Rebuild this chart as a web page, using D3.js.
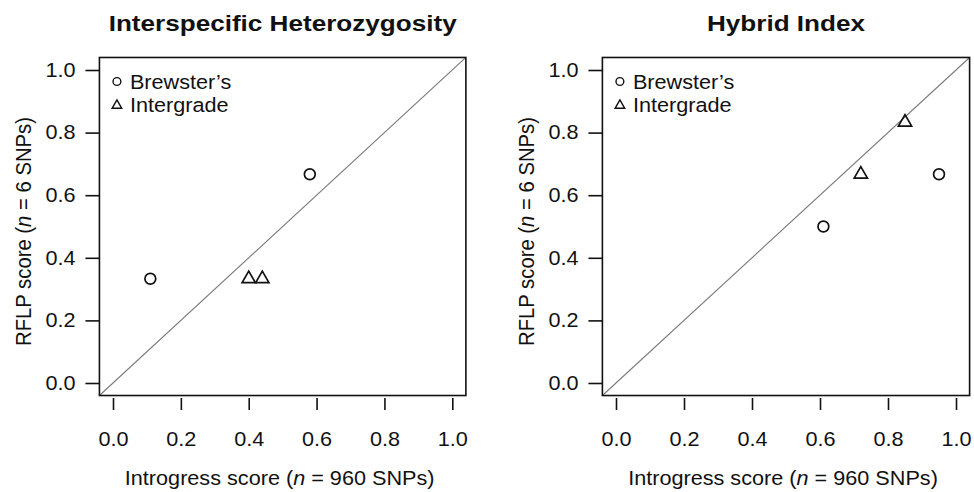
<!DOCTYPE html>
<html>
<head>
<meta charset="utf-8">
<script src="https://cdn.jsdelivr.net/npm/d3@7/dist/d3.min.js"></script>
<style>
  html, body { margin: 0; padding: 0; background: #fff; }
  svg { display: block; font-family: "Liberation Sans", Arial, Helvetica, sans-serif; }
</style>
</head>
<body>
<svg id="chart" width="974" height="492"></svg>
<script>
// ---- Data ----
const panelTitles = ["Interspecific Heterozygosity", "Hybrid Index"];
const tickValues = [0, 0.2, 0.4, 0.6, 0.8, 1.0];
const legendLabels = ["Brewster\u2019s", "Intergrade"];

// Panel 1: Interspecific Heterozygosity
const hetBrewsterX = [0.11, 0.58];
const hetBrewsterY = [0.333, 0.667];
const hetIntergradeX = [0.40, 0.44];
const hetIntergradeY = [0.333, 0.333];

// Panel 2: Hybrid Index
const hiBrewsterX = [0.61, 0.95];
const hiBrewsterY = [0.5, 0.667];
const hiIntergradeX = [0.72, 0.85];
const hiIntergradeY = [0.667, 0.833];

const panels = [
  { title: panelTitles[0], bx: hetBrewsterX, by: hetBrewsterY, ix: hetIntergradeX, iy: hetIntergradeY, x0: 113, x1: 452.3 },
  { title: panelTitles[1], bx: hiBrewsterX, by: hiBrewsterY, ix: hiIntergradeX, iy: hiIntergradeY, x0: 616, x1: 956 }
];

const svg = d3.select("#chart");
const FS = 19.5;
const SX = 1.11;   // horizontal stretch of the original figure's text

function stretchedText(parent, x, y, sx, anchor) {
  return parent.append("g").attr("transform", `translate(${x},${y}) scale(${sx},1)`)
    .append("text").attr("text-anchor", anchor).attr("fill", "#111");
}

panels.forEach((p, pi) => {
  const x = d3.scaleLinear().domain([0, 1]).range([p.x0, p.x1]);
  const y = d3.scaleLinear().domain([0, 1]).range([383, 70]);
  const g = svg.append("g");
  const left = x(-0.04), right = x(1.04), top = y(1.04), bottom = y(-0.04);

  const cid = "clip" + pi;
  svg.append("clipPath").attr("id", cid).append("rect")
    .attr("x", left).attr("y", top).attr("width", right - left).attr("height", bottom - top);

  // diagonal 1:1 line
  g.append("line")
    .attr("clip-path", `url(#${cid})`)
    .attr("x1", x(-0.04)).attr("y1", y(-0.04))
    .attr("x2", x(1.04)).attr("y2", y(1.04))
    .attr("stroke", "#7a7a7a").attr("stroke-width", 1.1);

  // box
  g.append("rect")
    .attr("x", left).attr("y", top).attr("width", right - left).attr("height", bottom - top)
    .attr("fill", "none").attr("stroke", "#111").attr("stroke-width", 1.6);

  // x axis
  const xa = g.append("g").attr("transform", `translate(0,${bottom + 2.5})`)
    .call(d3.axisBottom(x).tickValues(tickValues).tickFormat(d3.format(".1f")).tickSize(12).tickPadding(22));
  xa.select(".domain").remove();
  xa.selectAll("line").attr("stroke", "#111").attr("stroke-width", 1.6);
  xa.selectAll("text").attr("font-size", FS).attr("fill", "#111")
    .style("font-family", "Liberation Sans, Arial, sans-serif")
    .attr("transform", `scale(${SX},1)`);

  // y axis
  const ya = g.append("g").attr("transform", `translate(${left},0)`)
    .call(d3.axisLeft(y).tickValues(tickValues).tickFormat(d3.format(".1f")).tickSize(14).tickPadding(7.5));
  ya.select(".domain").remove();
  ya.selectAll("line").attr("stroke", "#111").attr("stroke-width", 1.6);
  ya.selectAll("text").attr("font-size", FS).attr("fill", "#111")
    .style("font-family", "Liberation Sans, Arial, sans-serif")
    .attr("transform", `scale(${SX},1)`);

  // title
  stretchedText(g, (x(0) + x(1)) / 2, 31, 1.16, "middle")
    .attr("font-size", 22.5).attr("font-weight", "bold")
    .text(p.title);

  // x label
  const xl = stretchedText(g, (x(0) + x(1)) / 2 - 3, 485, SX, "middle").attr("font-size", FS);
  xl.append("tspan").text("Introgress score (");
  xl.append("tspan").attr("font-style", "italic").text("n");
  xl.append("tspan").text(" = 960 SNPs)");

  // y label (rotated; the figure's horizontal stretch widens the glyph height)
  const yl = g.append("text")
    .attr("transform", `translate(${left - 68},${(y(0) + y(1)) / 2 + 5}) rotate(-90) scale(1.04,${SX})`)
    .attr("text-anchor", "middle").attr("font-size", FS).attr("fill", "#111");
  yl.append("tspan").text("RFLP score (");
  yl.append("tspan").attr("font-style", "italic").text("n");
  yl.append("tspan").text(" = 6 SNPs)");

  // points: Brewster's (circles)
  g.selectAll(".bw").data(d3.range(p.bx.length)).enter().append("circle")
    .attr("cx", i => x(p.bx[i])).attr("cy", i => y(p.by[i])).attr("r", 5.4)
    .attr("fill", "none").attr("stroke", "#111").attr("stroke-width", 1.7);

  // points: Intergrade (triangles)
  const tri = d3.symbol().type(d3.symbolTriangle).size(76);
  g.selectAll(".ig").data(d3.range(p.ix.length)).enter().append("path")
    .attr("d", tri)
    .attr("transform", i => `translate(${x(p.ix[i])},${y(p.iy[i])})`)
    .attr("fill", "none").attr("stroke", "#111").attr("stroke-width", 1.7);

  // legend
  const lx = left + 17.5;
  const ly = [81.5, 105];
  g.append("circle").attr("cx", lx).attr("cy", ly[0]).attr("r", 3.9)
    .attr("fill", "none").attr("stroke", "#111").attr("stroke-width", 1.4);
  g.append("path").attr("d", d3.symbol().type(d3.symbolTriangle).size(40))
    .attr("transform", `translate(${lx},${ly[1] + 0.5})`)
    .attr("fill", "none").attr("stroke", "#111").attr("stroke-width", 1.4);
  legendLabels.forEach((t, i) => {
    stretchedText(g, lx + 13, ly[i] + 7, SX, "start").attr("font-size", FS).text(t);
  });
});
</script>
</body>
</html>
